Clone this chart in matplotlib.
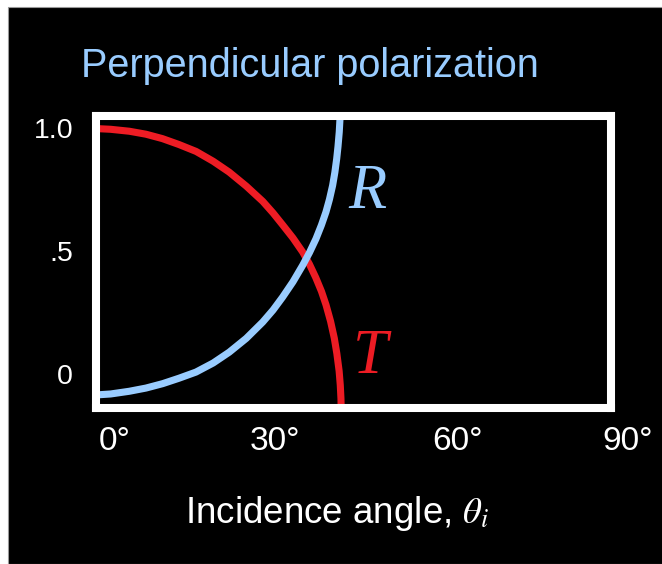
import matplotlib
matplotlib.use("Agg")
import matplotlib.pyplot as plt
from matplotlib.patches import Rectangle
import matplotlib.transforms as mtransforms

plt.rcParams['font.family'] = ['Liberation Sans', 'DejaVu Sans']
plt.rcParams['mathtext.fontset'] = 'stix'

# ---- data ----
angle_deg_T = [-2.6, 0.0, 3.3, 6.2, 9.1, 12.0, 15.0, 18.0, 20.8, 23.8, 26.7,
               28.5, 30.2, 32.0, 33.7, 34.9, 36.0, 37.0, 37.8, 38.6, 39.25,
               39.7, 40.1, 40.3, 40.42, 40.47]
T_values = [0.998, 0.995, 0.987, 0.975, 0.957, 0.933, 0.905, 0.865, 0.821,
            0.764, 0.702, 0.655, 0.606, 0.553, 0.496, 0.446, 0.392, 0.336,
            0.281, 0.214, 0.146, 0.083, 0.012, -0.045, -0.100, -0.154]

angle_deg_R = [-2.6, 0.0, 3.28, 6.2, 9.14, 12.0, 14.98, 18.0, 20.82, 23.8,
               26.68, 28.5, 30.19, 32.0, 33.70, 34.9, 36.04, 37.0, 37.79, 38.4,
               38.96, 39.35, 39.67, 39.9, 40.12, 40.25, 40.30]
R_values = [-0.085, -0.081, -0.070, -0.057, -0.039, -0.017, 0.008, 0.045,
            0.089, 0.145, 0.211, 0.260, 0.313, 0.375, 0.442, 0.494, 0.550,
            0.606, 0.659, 0.710, 0.767, 0.820, 0.875, 0.925, 0.984, 1.038, 1.065]

x_ticks = [0, 30, 60, 90]
x_tick_labels = ['0°', '30°', '60°', '90°']
y_ticks = [0.0, 0.5, 1.0]
y_tick_labels = ['0', '.5', '1.0']

title = 'Perpendicular polarization'
xlabel = r'Incidence angle, $\theta_i$'

BLUE = '#99CCFF'
RED = '#ED1C24'

W, H = 662, 564
fig = plt.figure(figsize=(W / 100, H / 100), dpi=100)
fig.patch.set_facecolor('white')

# black slide background
fig.patches.append(Rectangle((8 / W, 0), 1, (H - 7) / H, transform=fig.transFigure,
                             facecolor='black', edgecolor='#999999', lw=0.8, zorder=-5))

ax = fig.add_axes([96 / W, (H - 408) / H, (611 - 96) / W, (408 - 116) / H])
ax.set_zorder(1)
ax.set_facecolor('black')
ax.set_xlim(-2.56, 87.8)
ax.set_ylim(-0.138, 1.049)

ax.plot(angle_deg_T, T_values, color=RED, lw=5.1, solid_capstyle='butt',
        solid_joinstyle='round', zorder=2)
ax.plot(angle_deg_R, R_values, color=BLUE, lw=5.1, solid_capstyle='butt',
        solid_joinstyle='round', zorder=2)

for s in ax.spines.values():
    s.set_color('white')
    s.set_linewidth(5.8)
    s.set_zorder(3)

ax.set_yticks(y_ticks)
ax.set_yticklabels(y_tick_labels)
ax.tick_params(axis='y', length=0, pad=16.5, labelsize=20.5, labelcolor='white')
ax.set_xticks([])

# x tick labels drawn as text (the 90° label lies outside the frame)
label_nudge_px = {30: -11}   # layout nudge: the slide's labels are not evenly spaced
trans = mtransforms.blended_transform_factory(ax.transData, fig.transFigure)
for xv, lab in zip(x_ticks, x_tick_labels):
    t = trans + mtransforms.ScaledTranslation(label_nudge_px.get(xv, 0) / 100, 0,
                                              fig.dpi_scale_trans)
    ax.text(xv + 0.8, (H - 441) / H, lab, transform=t, ha='center', va='center',
            fontsize=24, color='white', clip_on=False)

fig.text(310 / W, (H - 77) / H, title, ha='center', va='baseline',
         fontsize=28.5, color=BLUE)
fig.text(337 / W, (H - 523) / H, xlabel, ha='center', va='baseline',
         fontsize=26.5, color='white')

ax.text(41.8, 0.675, 'R', ha='left', va='baseline', fontsize=45,
        family='Liberation Serif', style='italic', color=BLUE)
ax.text(42.5, 0.004, 'T', ha='left', va='baseline', fontsize=45,
        family='Liberation Serif', style='italic', color=RED)

fig.savefig('out.png', dpi=100, facecolor=fig.get_facecolor())
